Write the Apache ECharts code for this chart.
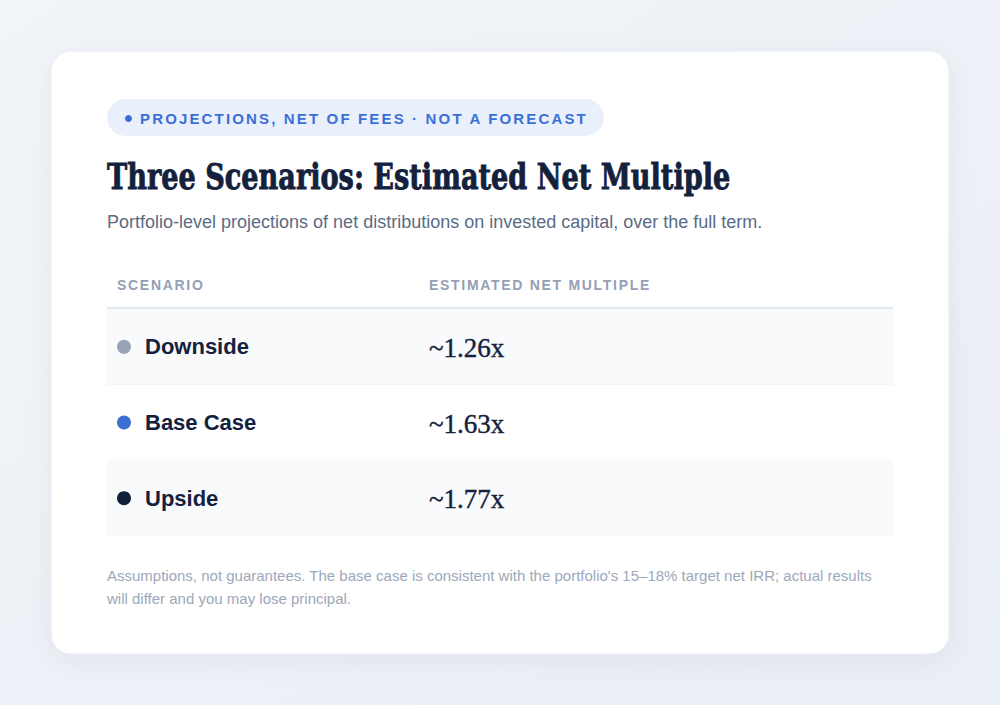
<!DOCTYPE html>
<html>
<head>
<meta charset="utf-8">
<script src="https://cdn.jsdelivr.net/npm/echarts@6/dist/echarts.min.js"></script>
<style>
  html, body { margin: 0; padding: 0; background: #eef2f7; }
  #chart { width: 1000px; height: 705px; }
</style>
</head>
<body>
<div id="chart"></div>
<script>
// table data
const scenarios = ['Downside', 'Base Case', 'Upside'];
const netMultiples = [1.26, 1.63, 1.77];
const columnHeaders = ['SCENARIO', 'ESTIMATED NET MULTIPLE'];

// texts
const badgeText = 'PROJECTIONS, NET OF FEES · NOT A FORECAST';
const titleText = 'Three Scenarios: Estimated Net Multiple';
const subtitleText = 'Portfolio-level projections of net distributions on invested capital, over the full term.';
const footnoteLines = [
  "Assumptions, not guarantees. The base case is consistent with the portfolio's 15–18% target net IRR; actual results",
  'will differ and you may lose principal.'
];

// styles
const dotColors = ['#98a4b8', '#3b6fd4', '#13203b'];
const SANS = '"Liberation Sans", Arial, sans-serif';
const SERIF = '"Liberation Serif", "Times New Roman", serif';
const TITLE_FONT = '"DejaVu Serif", serif';
const INK = '#14213d';

// squeeze the title horizontally so it spans like the reference
const measureCtx = document.createElement('canvas').getContext('2d');
measureCtx.font = 'bold 36px ' + TITLE_FONT;
const titleScale = Math.min(1, 623 / measureCtx.measureText(titleText).width);

const chart = echarts.init(document.getElementById('chart'), null, { renderer: 'svg' });

const option = {
  animation: false,
  backgroundColor: {
    type: 'linear', x: 0, y: 0, x2: 1, y2: 1,
    colorStops: [{ offset: 0, color: '#f1f4f8' }, { offset: 1, color: '#eaeef5' }]
  },
  graphic: [
    {
      type: 'rect', z: 0,
      shape: { x: 51, y: 51, width: 898, height: 603, r: 20 },
      style: { fill: '#ffffff', stroke: '#e6ebf2', lineWidth: 1,
               shadowBlur: 24, shadowOffsetY: 6, shadowColor: 'rgba(20,40,80,0.05)' }
    },
    {
      type: 'rect', z: 1,
      shape: { x: 107, y: 99, width: 497, height: 37, r: 18.5 },
      style: { fill: '#e9f0fc' }
    },
    {
      type: 'circle', z: 2,
      shape: { cx: 128.5, cy: 118.5, r: 3.5 },
      style: { fill: '#3b6fd8' }
    },
    {
      type: 'text', z: 2, x: 140, y: 118,
      style: { text: badgeText, font: 'bold 15px ' + SANS, fill: '#3b6fd8', verticalAlign: 'middle' }
    },
    {
      type: 'text', z: 2, x: 107, y: 177, scaleX: titleScale,
      style: { text: titleText, font: 'bold 36px ' + TITLE_FONT, fill: INK,
               stroke: INK, lineWidth: 0.9, verticalAlign: 'middle' }
    },
    {
      type: 'text', z: 2, x: 107, y: 222,
      style: { text: subtitleText, font: '18px ' + SANS, fill: '#5b6b84', verticalAlign: 'middle' }
    },
    {
      type: 'text', z: 2, x: 117, y: 285,
      style: { text: columnHeaders[0], font: 'bold 14px ' + SANS, fill: '#94a0b5', verticalAlign: 'middle' }
    },
    {
      type: 'text', z: 2, x: 429, y: 285,
      style: { text: columnHeaders[1], font: 'bold 14px ' + SANS, fill: '#94a0b5', verticalAlign: 'middle' }
    },
    {
      type: 'text', z: 2, x: 107, y: 563.5,
      style: { text: footnoteLines.join('\n'), font: '15px ' + SANS, fill: '#9ca8ba',
               lineHeight: 23, verticalAlign: 'top' }
    },
    {
      type: 'line', z: 10,
      shape: { x1: 107, y1: 308, x2: 893, y2: 308 },
      style: { stroke: '#e2e8f0', lineWidth: 2 }
    }
  ],
  grid: { left: 107, top: 309, width: 786, height: 227 },
  xAxis: { type: 'value', min: 0, max: 2, show: false },
  yAxis: {
    type: 'category', inverse: true, data: scenarios,
    axisLine: { show: false }, axisTick: { show: false }, axisLabel: { show: false },
    splitLine: { show: false }
  },
  series: [{
    type: 'custom',
    z: 3,
    data: scenarios.map((s, i) => [netMultiples[i], s]),
    encode: { x: 0, y: 1 },
    renderItem: function (params, api) {
      const i = params.dataIndex;
      const cs = params.coordSys;
      const center = api.coord([0, i]);
      const bandH = api.size([0, 1])[1];
      const top = center[1] - bandH / 2;
      const children = [
        {
          type: 'rect',
          shape: { x: cs.x, y: top, width: cs.width, height: bandH },
          style: { fill: i % 2 === 0 ? '#f8fafc' : '#ffffff' }
        },
        {
          type: 'circle',
          shape: { cx: cs.x + 17, cy: center[1], r: 7 },
          style: { fill: dotColors[i] }
        },
        {
          type: 'text',
          style: { text: scenarios[i], x: cs.x + 38, y: center[1], font: 'bold 22px ' + SANS,
                   fill: INK, verticalAlign: 'middle' }
        },
        {
          type: 'text',
          style: { text: '~' + api.value(0).toFixed(2) + 'x', x: cs.x + 322, y: center[1] + 1,
                   font: '27px ' + SERIF, fill: INK, stroke: INK, lineWidth: 0.4,
                   verticalAlign: 'middle' }
        }
      ];
      if (i < scenarios.length - 1) {
        children.push({
          type: 'line',
          shape: { x1: cs.x, y1: top + bandH, x2: cs.x + cs.width, y2: top + bandH },
          style: { stroke: '#edf1f6', lineWidth: 1 }
        });
      }
      return { type: 'group', children: children };
    }
  }]
};

chart.setOption(option);

// letter spacing for the uppercase labels (svg attribute)
const spacing = {};
spacing[badgeText] = '2.15px';
spacing[columnHeaders[0]] = '1.7px';
spacing[columnHeaders[1]] = '1.7px';
function applySpacing() {
  chart.getDom().querySelectorAll('text').forEach(function (t) {
    const s = spacing[t.textContent.trim()];
    if (s) t.setAttribute('letter-spacing', s);
  });
}
applySpacing();
chart.on('finished', applySpacing);
setTimeout(applySpacing, 50);
</script>
</body>
</html>
